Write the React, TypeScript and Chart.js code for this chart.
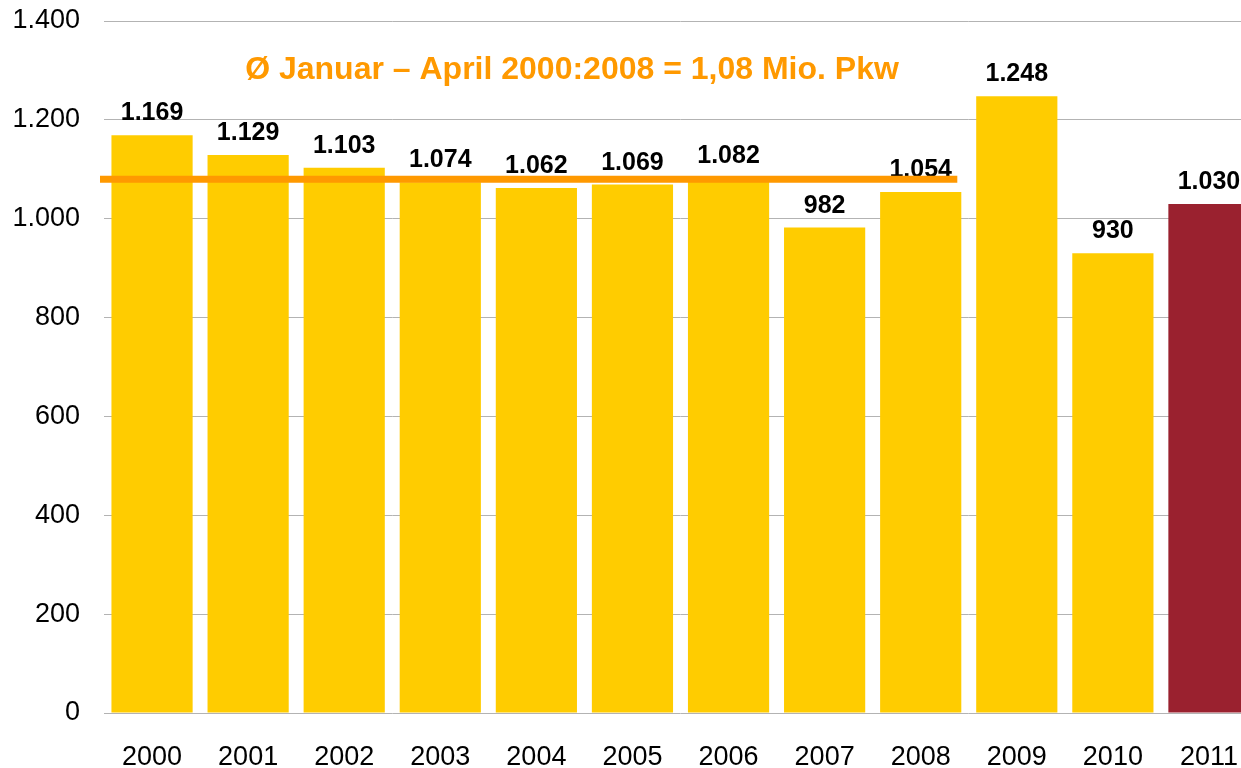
import React, { useEffect, useRef } from "react";
import { Chart, registerables } from "chart.js";

Chart.register(...registerables);

const years = ["2000", "2001", "2002", "2003", "2004", "2005", "2006", "2007", "2008", "2009", "2010", "2011"];
const registrations = [1169, 1129, 1103, 1074, 1062, 1069, 1082, 982, 1054, 1248, 930, 1030];
const averageValue = 1080;
const averageLastIndex = 8;
const averageText = "Ø Januar – April 2000:2008 = 1,08 Mio. Pkw";
const yTicks = [0, 200, 400, 600, 800, 1000, 1200, 1400];

const fmt = (v: number) => v.toLocaleString("de-DE");

const overlayPlugin = {
  id: "overlay",
  afterDatasetsDraw(chart: any) {
    const { ctx, chartArea, scales } = chart;
    const meta = chart.getDatasetMeta(0);
    ctx.save();
    // data labels
    ctx.fillStyle = "#000000";
    ctx.font = "bold 25px 'Liberation Sans', Arial, sans-serif";
    ctx.textAlign = "center";
    ctx.textBaseline = "alphabetic";
    meta.data.forEach((bar: any, i: number) => {
      ctx.fillText(fmt(registrations[i]), bar.x, bar.y - 15);
    });
    // average line
    const yPix = scales.y.getPixelForValue(averageValue);
    const lastBar = meta.data[averageLastIndex];
    ctx.strokeStyle = "#FF9900";
    ctx.lineWidth = 7;
    ctx.beginPath();
    ctx.moveTo(chartArea.left - 4, yPix);
    ctx.lineTo(lastBar.x + lastBar.width / 2 - 4, yPix);
    ctx.stroke();
    // average text
    ctx.fillStyle = "#FF9900";
    ctx.font = "bold 32px 'Liberation Sans', Arial, sans-serif";
    ctx.textAlign = "center";
    ctx.textBaseline = "middle";
    ctx.fillText(averageText, chartArea.left + 468, chartArea.top + 49);
    ctx.restore();
  },
};

export default function App() {
  const ref = useRef<HTMLCanvasElement>(null);
  useEffect(() => {
    document.body.style.margin = "0";
    document.body.style.overflow = "hidden";
    const chart = new Chart(ref.current!, {
      type: "bar",
      data: {
        labels: years,
        datasets: [
          {
            data: registrations,
            backgroundColor: registrations.map((_, i) => (i === registrations.length - 1 ? "#9A212F" : "#FFCC00")),
            borderWidth: 0,
            categoryPercentage: 1,
            barPercentage: 0.845,
          },
        ],
      },
      options: {
        responsive: false,
        animation: false,
        layout: { padding: { top: 21, left: 0, right: 0, bottom: 0 } },
        plugins: {
          legend: { display: false },
          tooltip: { enabled: false },
          title: { display: false },
        },
        scales: {
          x: {
            grid: { display: false, drawTicks: false },
            border: { display: false },
            ticks: {
              color: "#000000",
              font: { family: "'Liberation Sans', Arial, sans-serif", size: 27 },
              padding: 28,
              maxRotation: 0,
            },
            afterFit: (s: any) => {
              s.height = 55;
              s.paddingLeft = 0;
              s.paddingRight = 0;
            },
          },
          y: {
            min: 0,
            max: 1400,
            afterBuildTicks: (s: any) => {
              s.ticks = yTicks.map((v) => ({ value: v }));
            },
            grid: { color: "#B3B3B3", lineWidth: 1, drawTicks: false },
            border: { display: false },
            ticks: {
              color: "#000000",
              font: { family: "'Liberation Sans', Arial, sans-serif", size: 27 },
              padding: 24,
              callback: (v: any) => fmt(Number(v)),
            },
            afterFit: (s: any) => {
              s.width = 104;
              s.paddingTop = 0;
              s.paddingBottom = 0;
            },
          },
        },
      },
      plugins: [overlayPlugin],
    });
    return () => chart.destroy();
  }, []);
  return (
    <div style={{ width: 1241, height: 768, overflow: "hidden", background: "#fff" }}>
      <div style={{ width: 1257, height: 768 }}>
        <canvas ref={ref} width={1257} height={768} style={{ display: "block", width: 1257, height: 768 }} />
      </div>
    </div>
  );
}
